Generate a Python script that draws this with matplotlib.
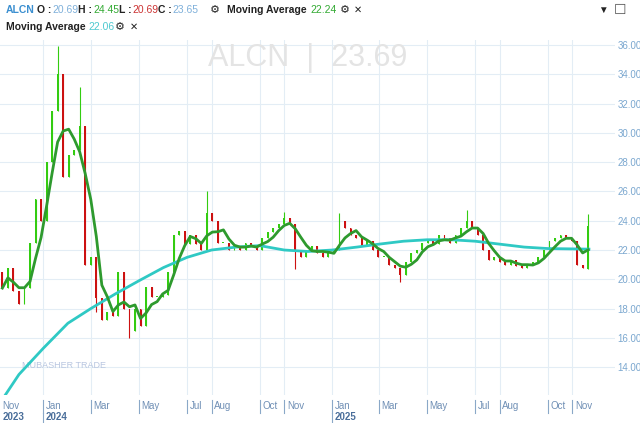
import matplotlib
matplotlib.use("Agg")
import matplotlib.pyplot as plt
import matplotlib.dates as mdates
import numpy as np
import pandas as pd

start = "2023-11-10"
closes = [19.4, 20.8, 19.2, 18.3, 19.4, 22.5, 25.5, 24.0, 28.0, 31.5,
          34.0, 27.0, 28.5, 28.8, 30.5, 21.0, 21.5, 18.7, 17.2, 17.8,
          17.5, 20.5, 18.0, 16.5, 18.0, 16.8, 19.5, 18.8, 18.8, 18.9,
          20.5, 23.0, 23.3, 22.4, 23.0, 22.4, 22.0, 24.5, 24.0, 22.5,
          22.5, 22.0, 22.3, 22.0, 22.5, 22.3, 22.0, 22.8, 23.2, 23.5,
          23.8, 24.2, 23.8, 22.0, 21.5, 22.0, 22.3, 21.8, 21.5, 21.8,
          22.0, 24.0, 23.5, 23.0, 22.8, 22.3, 22.6, 22.0, 21.5, 21.5,
          21.0, 20.8, 20.3, 21.2, 21.8, 22.0, 22.5, 22.6, 22.4, 23.0,
          22.8, 22.5, 23.0, 23.5, 24.0, 23.5, 23.0, 22.0, 21.3, 21.5,
          21.2, 21.0, 21.3, 20.9, 20.8, 21.0, 21.2, 21.5, 22.0, 22.6,
          22.8, 23.0, 22.8, 22.6, 21.0, 20.8, 23.65]
first_open = 20.5
last_open = 20.69
high_over = {10: 35.9, 14: 33.1, 37: 26.0, 51: 24.6, 61: 24.5, 84: 24.7, 106: 24.45}
low_over = {17: 17.8, 23: 16.0, 53: 20.7, 72: 19.8, 106: 20.69}

ma2_dates = ["2023-11-10", "2023-12-01", "2024-01-01", "2024-02-01", "2024-03-01",
             "2024-04-01", "2024-05-01", "2024-06-01", "2024-07-01", "2024-08-01",
             "2024-09-01", "2024-10-01", "2024-11-01", "2024-12-01", "2025-01-01",
             "2025-02-01", "2025-03-01", "2025-04-01", "2025-05-01", "2025-06-01",
             "2025-07-01", "2025-08-01", "2025-09-01", "2025-10-01", "2025-11-22"]
ma2_vals = [11.8, 13.5, 15.3, 17.0, 18.0, 19.0, 19.9, 20.8, 21.5, 22.0,
            22.2, 22.3, 22.0, 21.9, 22.0, 22.2, 22.4, 22.6, 22.7, 22.7,
            22.6, 22.4, 22.2, 22.1, 22.06]

month_ticks = ["2023-11-01", "2024-01-01", "2024-03-01", "2024-05-01", "2024-07-01",
               "2024-08-01", "2024-10-01", "2024-11-01", "2025-01-01", "2025-03-01",
               "2025-05-01", "2025-07-01", "2025-08-01", "2025-10-01", "2025-11-01"]
month_labels = ["Nov", "Jan", "Mar", "May", "Jul", "Aug", "Oct", "Nov", "Jan", "Mar",
                "May", "Jul", "Aug", "Oct", "Nov"]
year_labels = {0: "2023", 1: "2024", 8: "2025"}
y_ticks = [14, 16, 18, 20, 22, 24, 26, 28, 30, 32, 34, 36]

FAM = ["Liberation Sans", "DejaVu Sans"]

dates = pd.date_range(start, periods=len(closes), freq="7D")
c = np.array(closes)
o = np.concatenate([[first_open], c[:-1]])
o[-1] = last_open
h = np.maximum(o, c)
l = np.minimum(o, c)
for k, v in high_over.items():
    h[k] = v
for k, v in low_over.items():
    l[k] = v
ma1 = pd.Series(c).rolling(4, min_periods=1).mean().values

fig = plt.figure(figsize=(6.4, 4.23), dpi=100)
ax = fig.add_axes([0, 1 - 395 / 423, 615 / 640, 355 / 423])
x = mdates.date2num(dates)
ax.set_xlim(mdates.datestr2num("2023-11-10") - 3, mdates.datestr2num("2025-12-25"))
ax.set_ylim(12.1, 36.34)

for t in month_ticks:
    ax.axvline(mdates.datestr2num(t), color="#e3edf5", lw=0.8, zorder=0)
for yv in y_ticks:
    ax.axhline(yv, color="#e3edf5", lw=0.8, zorder=0)

up_col, dn_col = "#33cc11", "#cc1111"
for xi, oi, hi, li, ci in zip(x, o, h, l, c):
    col = up_col if ci >= oi else dn_col
    ax.vlines(xi, li, hi, color=col, lw=0.8, zorder=2)
    ax.bar(xi, max(abs(ci - oi), 0.08), bottom=min(oi, ci), width=2.4, color=col, zorder=2)

ax.plot(mdates.datestr2num(ma2_dates), ma2_vals, color="#2fc9c4", lw=2, zorder=3)
ax.plot(x, ma1, color="#2e9a2e", lw=2, zorder=4)

ax.set_xticks([])
ax.yaxis.tick_right()
ax.set_yticks(y_ticks)
ax.set_yticklabels([f"{v:.2f}" for v in y_ticks], color="#7aa7cf", fontsize=7, family=FAM)
ax.tick_params(axis="y", length=0, pad=2)
for s in ax.spines.values():
    s.set_visible(False)

ax.text(0.5, 0.95, "ALCN  |  23.69", transform=ax.transAxes, ha="center", va="center",
        fontsize=22, color="#e4e4e4", zorder=1, family=FAM)
ax.text(0.035, 0.075, "MUBASHER TRADE", transform=ax.transAxes, fontsize=6.5,
        color="#b8c6e0", zorder=1, family=FAM)

for i, (t, lab) in enumerate(zip(month_ticks, month_labels)):
    xd = mdates.datestr2num(t)
    xa = ax.transData.transform((xd, 0))[0] / fig.bbox.width
    xa = max(xa, 0.0)
    if i > 0:
        fig.add_artist(plt.Line2D([xa, xa], [1 - 400 / 423, 1 - 413 / 423], color="#8aa8c8", lw=0.8))
    fig.text(xa + 0.004, 1 - 406 / 423, lab, fontsize=7, color="#6f8fb5", va="center", family=FAM)
    if i in year_labels:
        if i > 0:
            fig.add_artist(plt.Line2D([xa, xa], [1 - 413 / 423, 1 - 423 / 423], color="#8aa8c8", lw=0.8))
        fig.text(xa + 0.004, 1 - 417 / 423, year_labels[i], fontsize=7, color="#4a6e9a",
                 va="center", fontweight="bold", family=FAM)

def T(px, py, s, col, bold=True, size=7.5):
    fig.text(px / 640, 1 - py / 423, s, color=col, fontsize=size, va="center",
             fontweight="bold" if bold else "normal", family=FAM)

T(6, 10, "ALCN", "#3b8fd0")
T(37, 10, "O :", "#222222")
T(52, 10, "20.69", "#7fb0da", False)
T(78, 10, "H :", "#222222")
T(93, 10, "24.45", "#33aa33", False)
T(119, 10, "L :", "#222222")
T(132, 10, "20.69", "#cc3333", False)
T(158, 10, "C :", "#222222")
T(172, 10, "23.65", "#7fb0da", False)
T(210, 10, "⚙", "#222222", size=8)
T(227, 10, "Moving Average", "#222222")
T(310, 10, "22.24", "#33aa33", False)
T(340, 10, "⚙", "#222222", size=8)
T(354, 10, "✕", "#222222", False, size=7)
T(6, 27, "Moving Average", "#222222")
T(88, 27, "22.06", "#4ec9d0", False)
T(115, 27, "⚙", "#222222", size=8)
T(130, 27, "✕", "#222222", False, size=7)
T(598, 10, "▼", "#222222", False, size=7)
T(614, 10, "☐", "#555555", False, size=10)

fig.savefig("out.png", dpi=100)
